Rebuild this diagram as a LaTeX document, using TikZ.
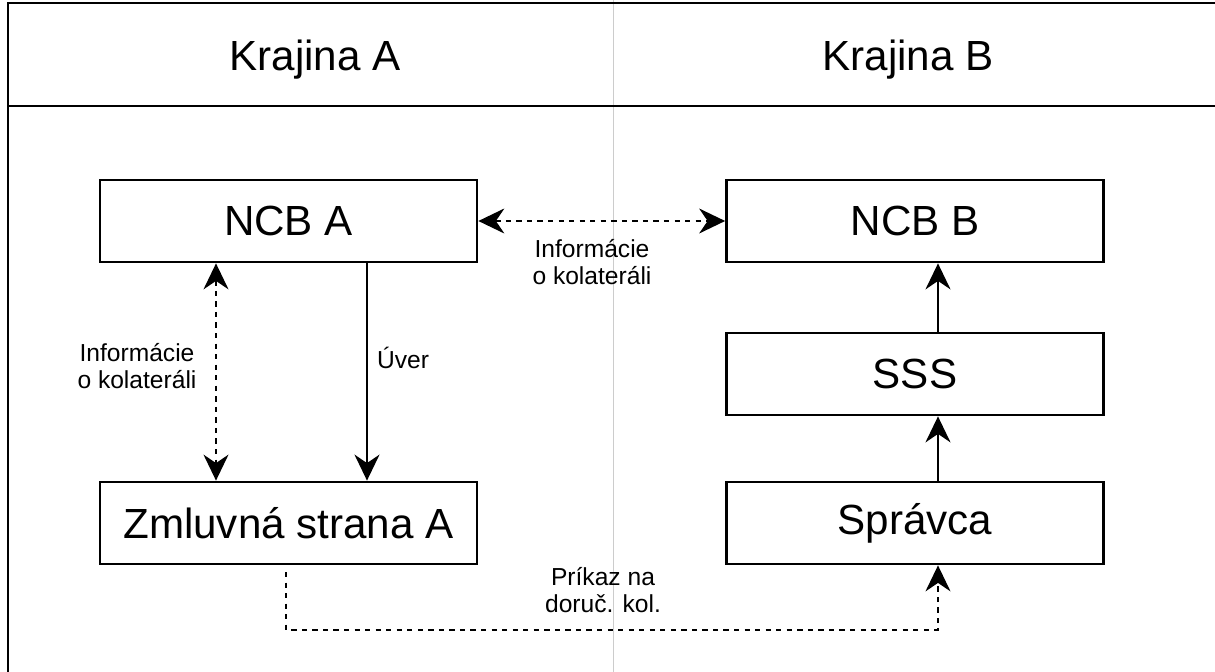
\documentclass[tikz,border=0pt]{standalone}
\usepackage{fontspec}
\setmainfont{Liberation Sans}
\usetikzlibrary{arrows.meta}

\begin{document}
\begin{tikzpicture}[x=0.02cm, y=-0.02cm,
    box/.style = {draw, line width=1.6pt, minimum width=7.54cm, minimum height=1.64cm, font=\fontsize{24}{28}\selectfont},
    head/.style = {font=\fontsize{24}{28}\selectfont},
    lbl/.style = {align=center, inner sep=0pt, font=\fontsize{14}{15.8}\selectfont},
    flow/.style = {-{Stealth[length=0.52cm, width=0.5cm, inset=0.17cm]}, line width=1.1pt},
    dline/.style = {line width=0.9pt, dash pattern=on 3pt off 3pt}]

      \useasboundingbox (0,0) rectangle (1215,672);
      \clip (0,0) rectangle (1215,672);

      \draw[black!20, line width=0.45pt] (613,0) -- (613,672);
      \draw[line width=1.6pt] (8,3) rectangle (1240,700);
      \draw[line width=1.2pt] (8,106) -- (1240,106);

      \node[head] (kraja) at (315,60) {Krajina A};
      \node[head] (krajb) at (908,60) {Krajina B};

      \node[box] (ncba) at (288.5,221) {NCB A};
      \node[box] (ncbb) at (915,221) {NCB B};
      \node[box] (sss) at (915,374) {SSS};
      \node[box] (zmla) at (288.5,523) {Zmluvná strana A};
      \node[box] (sprav) at (915,523) {Správca};

      \coordinate (cinfo) at (216,0);
      \coordinate (cuver) at (367,0);
      \coordinate (cright) at (938,0);
      \coordinate (pstart) at (286,572);
      \coordinate (pbot) at (0,630);

      \draw[dline, {Stealth[length=0.52cm, width=0.5cm, inset=0.17cm]}-{Stealth[length=0.52cm, width=0.5cm, inset=0.17cm]}] (ncba) -- (ncbb);
      \node[lbl] (infab) at (592,262) {Informácie\\o kolateráli};

      \draw[dline, {Stealth[length=0.52cm, width=0.5cm, inset=0.17cm]}-{Stealth[length=0.52cm, width=0.5cm, inset=0.17cm]}] (ncba.south -| cinfo) -- (zmla.north -| cinfo);
      \node[lbl] (infa) at (137,366) {Informácie\\o kolateráli};

      \draw[flow] (ncba.south -| cuver) -- (zmla.north -| cuver);
      \node[lbl] (uver) at (403,358) {Úver};

      \draw[flow] (sss.north -| cright) -- (ncbb.south -| cright);
      \draw[flow] (sprav.north -| cright) -- (sss.south -| cright);

      \draw[dline, -{Stealth[length=0.52cm, width=0.5cm, inset=0.17cm]}] (pstart) -- (pstart |- pbot) -- (pbot -| cright) -- (sprav.south -| cright);
      \node[lbl] (prikaz) at (603,590) {Príkaz na\\doruč. kol.};

\end{tikzpicture}
\end{document}
